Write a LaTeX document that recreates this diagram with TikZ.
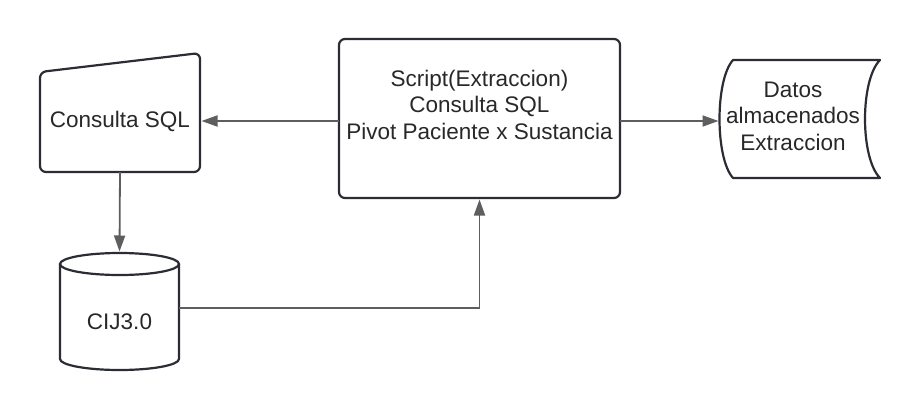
\documentclass[tikz,border=0pt]{standalone}
\usepackage{fontspec}
\setmainfont{Liberation Sans}
\usetikzlibrary{arrows.meta}
\definecolor{bord}{HTML}{2A2D33}
\definecolor{conncol}{HTML}{5E5E5E}
\definecolor{txt}{HTML}{282828}
\tikzset{
 shapeline/.style={draw=bord, line width=2.2pt, rounded corners=6pt},
 plainline/.style={draw=bord, line width=2.2pt},
 holder/.style={inner sep=0pt, outer sep=0pt},
 conn/.style={draw=conncol, line width=1.8pt, -{Triangle[length=16pt,width=11pt]}, conncol, shorten >=1.5pt},
 lbl/.style={font=\fontsize{22.5}{26.5}\selectfont, text=txt, align=center, inner sep=0pt}
}
\begin{document}
\begin{tikzpicture}[x=1pt,y=-1pt]
\useasboundingbox[fill=white] (0,0) rectangle (920,412);
% Consulta SQL (manual input)
\draw[shapeline] (40,72) -- (200,53) -- (200,172) -- (40,172) -- cycle;
\node[holder, minimum width=160pt, minimum height=119pt] (cons) at (120,112.5) {};
\node[lbl] (consT) at (120,121) {Consulta SQL};
% Script box
\node[shapeline, holder, minimum width=281pt, minimum height=159pt] (script) at (479.5,118.5) {};
\node[lbl] (scriptT) at (479.5,104.5) {Script(Extraccion)\\Consulta SQL\\Pivot Paciente x Sustancia};
% Datos almacenados (stored data)
\draw[plainline, line join=round] (733,60) -- (880,60) .. controls (860,80) and (860,158) .. (880,178) -- (733,178) .. controls (715,158) and (715,80) .. (733,60) -- cycle;
\node[holder, minimum width=160pt, minimum height=118pt] (datos) at (800,119) {};
\node[lbl] (datosT) at (793,116) {Datos\\almacenados\\Extraccion};
% Cylinder CIJ3.0
\draw[plainline] (60,264) -- (60,359) arc[start angle=180, end angle=360, x radius=59.5pt, y radius=11pt] -- (179,264);
\draw[plainline] (119.5,264) ellipse [x radius=59.5pt, y radius=11pt];
\node[holder, minimum width=119pt, minimum height=117pt] (cij) at (119.5,311.5) {};
\node[lbl] (cijT) at (119.5,322) {CIJ3.0};
% connectors
\draw[conn] (script.west |- 0,121) -- (cons.east |- 0,121);
\draw[conn] (script.east |- 0,121) -- (datos.west |- 0,121);
\draw[conn] (cons.south) -- (cij.north);
\draw[conn] (cij.east |- 0,308) -| (script.south);
\end{tikzpicture}
\end{document}
